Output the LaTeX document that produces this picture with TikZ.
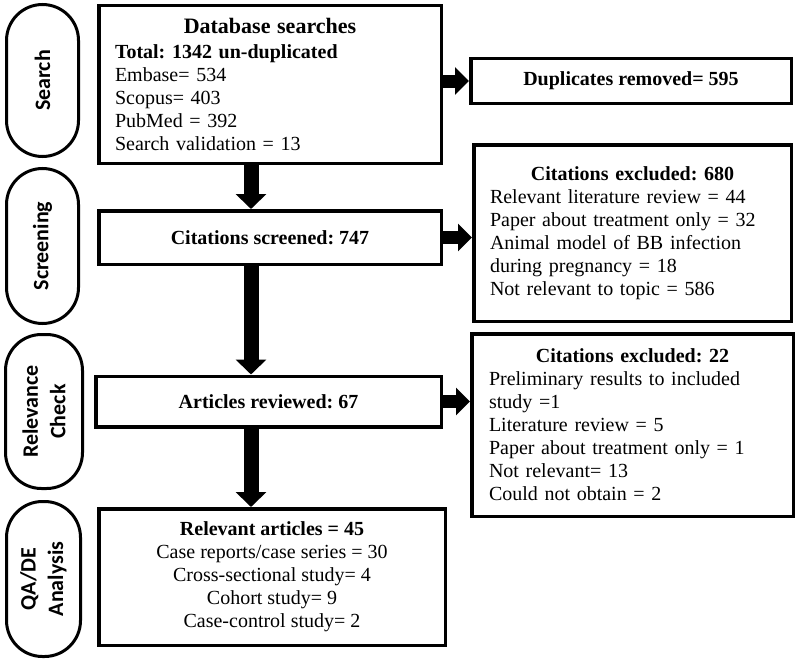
\documentclass[tikz,border=0pt]{standalone}
\usepackage{fontspec}
\setmainfont{Liberation Serif}
\newfontfamily\pillfont{Carlito}
\usetikzlibrary{arrows.meta}
\begin{document}
\frenchspacing
\begin{tikzpicture}[x=1pt,y=-1pt,
  box/.style={draw,line width=3.5pt,inner sep=0pt,font=\frenchspacing\fontsize{20}{23}\selectfont},
  pill/.style={draw,line width=3pt,rounded corners=36pt,inner sep=0pt,rotate=90,
    font=\pillfont\bfseries\fontsize{22}{27.5}\selectfont,align=center},
  downarrow/.style={line width=15pt,-{Triangle[width=30pt,length=15pt]}},
  rightarrow/.style={line width=13pt,-{Triangle[width=27pt,length=14pt]}}
]
\useasboundingbox (0,0) rectangle (800,661);

% stage pills
\node[pill,minimum width=152pt,minimum height=72pt] (p1) at (42.5,80.5) {Search};
\node[pill,minimum width=155pt,minimum height=72pt] (p2) at (42.5,246) {Screening};
\node[pill,minimum width=154pt,minimum height=77pt] (p3) at (44,411.5) {Relevance\\Check};
\node[pill,minimum width=155pt,minimum height=74pt] (p4) at (43.5,579) {QA/DE\\Analysis};

% main boxes
\node[box,minimum width=342.5pt,minimum height=157.5pt,text width=310pt,align=left] (db) at (270,84.5)
  {\hspace*{\fill}{\fontsize{22}{23}\selectfont\bfseries Database searches}\hspace*{\fill}\null\\[2pt]
   \textbf{Total: 1342 un-duplicated}\\
   Embase= 534\\
   Scopus= 403\\
   PubMed = 392\\
   Search validation = 13};
\node[box,minimum width=342.5pt,minimum height=53.5pt] (scr) at (270,237.5)
  {\textbf{Citations screened: 747}};
\node[box,minimum width=345.5pt,minimum height=50.5pt] (art) at (268.5,401.5)
  {\textbf{Articles reviewed: 67}};
\node[box,minimum width=346.5pt,minimum height=136.5pt,align=center] (rel) at (272,577)
  {\textbf{Relevant articles = 45}\\
   Case reports/case series = 30\\
   Cross-sectional study= 4\\
   Cohort study= 9\\
   Case-control study= 2};

% side boxes
\node[box,minimum width=320.5pt,minimum height=44.5pt] (dup) at (631,81)
  {\textbf{Duplicates removed= 595}};
\node[box,minimum width=317.5pt,minimum height=176.5pt,text width=285pt,align=left] (ex1) at (632.5,233)
  {\hspace*{\fill}\textbf{Citations excluded: 680}\hspace*{\fill}\null\\
   Relevant literature review = 44\\
   Paper about treatment only = 32\\
   Animal model of BB infection\\
   during pregnancy = 18\\
   Not relevant to topic = 586};
\node[box,minimum width=321.5pt,minimum height=182.5pt,text width=287pt,align=left] (ex2) at (632.5,425)
  {\hspace*{\fill}\textbf{Citations excluded: 22}\hspace*{\fill}\null\\
   Preliminary results to included\\
   study =1\\
   Literature review = 5\\
   Paper about treatment only = 1\\
   Not relevant= 13\\
   Could not obtain = 2};

% connectors
\coordinate (ax) at (251,0);
\draw[downarrow] (db.south -| ax) -- (scr.north -| ax);
\draw[downarrow] (scr.south -| ax) -- (art.north -| ax);
\draw[downarrow] (art.south -| ax) -- (rel.north -| ax);
\draw[rightarrow] (db.east |- dup.west) -- (dup.west);
\draw[rightarrow] (scr.east) -- (scr.east -| ex1.west);
\draw[rightarrow] (art.east) -- (art.east -| ex2.west);
\end{tikzpicture}
\end{document}
